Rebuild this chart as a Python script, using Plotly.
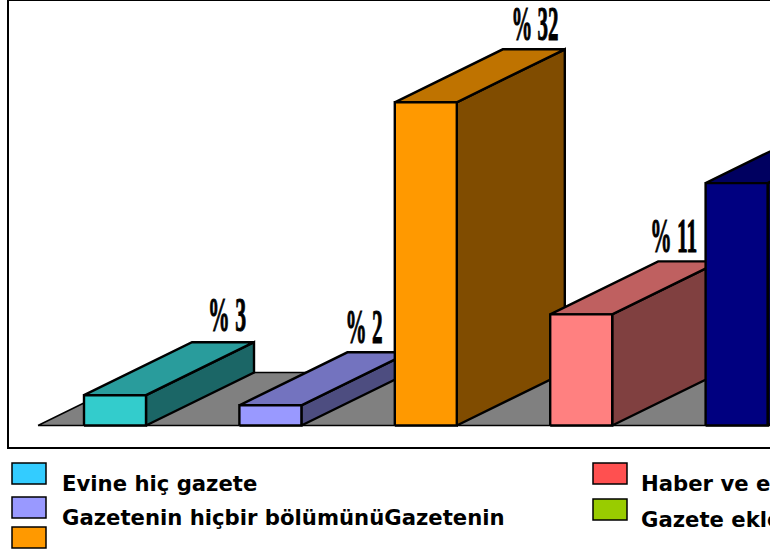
import plotly.graph_objects as go

# Data
values = [3, 2, 32, 11, 24]
value_labels = ["% 3", "% 2", "% 32", "% 11", "% 24"]
front_colors = ["#33CCCC", "#9999FF", "#FF9900", "#FF8080", "#000080"]
top_colors = ["#299C9C", "#7373BF", "#BF7300", "#BF6060", "#000060"]
side_colors = ["#1B6666", "#4D4D80", "#804C00", "#804040", "#000040"]

legend_left = ["Evine hiç gazete", "Gazetenin hiçbir bölümünüGazetenin", ""]
legend_left_colors = ["#33CCFF", "#9999FF", "#FF9900"]
legend_right = ["Haber ve e", "Gazete ekle"]
legend_right_colors = ["#FF5050", "#99CC00"]

# Layout constants
W, H = 770, 555
X0_PX, STEP_PX = 115.0, 155.4      # pixel of category 0, pixels per category
Y0_PX, UNIT_PX = 425.5, 10.1       # pixel of value 0, pixels per value unit
HALF = 31 / STEP_PX
DX = 108 / STEP_PX
DY = 53 / UNIT_PX
FLOOR_L = (38 - X0_PX) / STEP_PX
FLOOR_R = 6.0
LABEL_DX = [112, 94, 109, 92, 100]
LABEL_GAP = [7, 5, 5, 5, 5]
LABEL_W = [38, 37, 47, 47, 47]


def poly(xs, ys, fill, lw=2.4):
    return go.Scatter(x=xs + xs[:1], y=ys + ys[:1], mode="lines", fill="toself",
                      fillcolor=fill, line=dict(color="black", width=lw),
                      hoverinfo="skip", showlegend=False)


fig = go.Figure()
fig.add_trace(poly([FLOOR_L, FLOOR_L + DX, FLOOR_R, FLOOR_R],
                   [0, DY, DY, 0], "#808080", 1.5))

for i, v in enumerate(values):
    l, r = i - HALF, i + HALF
    fig.add_trace(poly([r, r + DX, r + DX, r], [0, DY, v + DY, v], side_colors[i]))
    fig.add_trace(poly([l, r, r + DX, l + DX], [v, v, v + DY, v + DY], top_colors[i]))
    fig.add_trace(poly([l, r, r, l], [0, 0, v, v], front_colors[i]))

annotations = []
for i, (v, t) in enumerate(zip(values, value_labels)):
    annotations.append(dict(x=i, y=v + DY, xref="x", yref="y", text=t, showarrow=False,
                            xanchor="center", yanchor="bottom",
                            xshift=LABEL_DX[i], yshift=LABEL_GAP[i] - 8,
                            font=dict(family="Liberation Serif", size=48, color="black", weight=700)))

shapes = [dict(type="rect", xref="paper", yref="paper",
               x0=8 / W, x1=790 / W, y0=1 - 448 / H, y1=1,
               line=dict(color="black", width=2), layer="below")]


def legend_entry(x_box, y_box, color, text, y_text, text_gap):
    shapes.append(dict(type="rect", xref="paper", yref="paper",
                       x0=x_box / W, x1=(x_box + 34) / W,
                       y0=1 - (y_box + 21) / H, y1=1 - y_box / H,
                       fillcolor=color, line=dict(color="black", width=1.5)))
    if text:
        annotations.append(dict(x=(x_box + text_gap) / W, y=1 - y_text / H, xref="paper", yref="paper",
                                text="<b>%s</b>" % text, showarrow=False,
                                xanchor="left", yanchor="middle",
                                font=dict(family="DejaVu Sans", size=21.2, color="black")))


left_y = [463, 497, 527]
left_t = [483, 517, 547]
for c, t, yb, yt in zip(legend_left_colors, legend_left, left_y, left_t):
    legend_entry(12, yb, c, t, yt, 48)
right_y = [463, 499]
right_t = [483, 519]
for c, t, yb, yt in zip(legend_right_colors, legend_right, right_y, right_t):
    legend_entry(593, yb, c, t, yt, 46)

fig.update_layout(
    width=W, height=H, margin=dict(l=0, r=0, t=0, b=0),
    paper_bgcolor="white", plot_bgcolor="white", showlegend=False,
    shapes=shapes, annotations=annotations,
    xaxis=dict(range=[-X0_PX / STEP_PX, (W - X0_PX) / STEP_PX], visible=False, fixedrange=True),
    yaxis=dict(range=[-(H - Y0_PX) / UNIT_PX, Y0_PX / UNIT_PX], visible=False, fixedrange=True),
)

# The value labels use a tall, condensed bold serif: squeeze the real text to width.
widths = dict(zip(value_labels, LABEL_W))
post = """
document.body.style.margin = '0';
document.documentElement.style.overflow = 'hidden';
var w = %s;
document.querySelectorAll('text.annotation-text').forEach(function (t) {
  var k = t.textContent;
  if (w[k]) {
    t.setAttribute('textLength', w[k]);
    t.setAttribute('lengthAdjust', 'spacingAndGlyphs');
    t.style.stroke = 'black';
    t.style.strokeWidth = '1.1px';
  }
});
""" % (str(widths).replace("'", '"'))

fig.write_html("out.html", post_script=post, config={"displayModeBar": False})
